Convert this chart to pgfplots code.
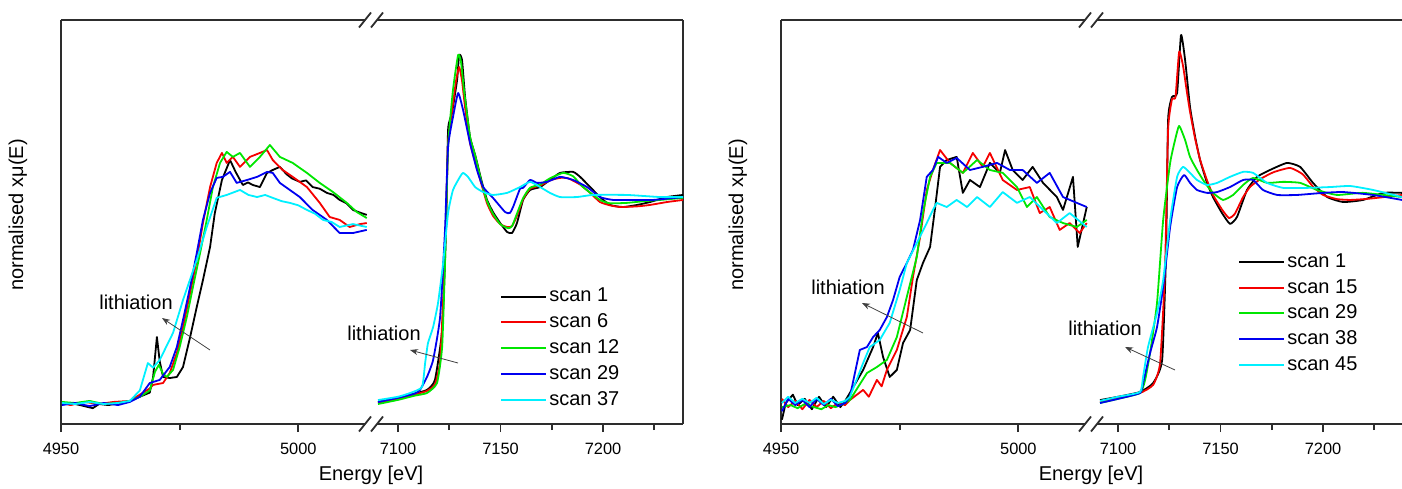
\documentclass[border=0pt]{standalone}
\usepackage{fontspec}
\setmainfont{Liberation Sans}
\usepackage{pgfplots}
\pgfplotsset{compat=1.18}
\usetikzlibrary{arrows.meta}
\definecolor{sblack}{RGB}{0,0,0}
\definecolor{sred}{RGB}{245,0,0}
\definecolor{sgreen}{RGB}{0,230,0}
\definecolor{sblue}{RGB}{0,0,240}
\definecolor{scyan}{RGB}{0,240,255}
\definecolor{frame}{RGB}{45,45,45}

\pgfplotsset{
  c1/.style={sblack, line width=0.9pt, line join=round, no marks},
  c2/.style={sred, line width=0.9pt, line join=round, no marks},
  c3/.style={sgreen, line width=0.9pt, line join=round, no marks},
  c4/.style={sblue, line width=0.9pt, line join=round, no marks},
  c5/.style={scyan, line width=0.9pt, line join=round, no marks},
  xas/.style={scale only axis, height=202pt, ymin=-0.101, ymax=1.841, ytick=\empty,
    enlargelimits=false, tick align=outside, major tick length=4pt, minor tick length=3pt,
    axis line style={line width=0.9pt, frame}, tick style={line width=0.9pt, frame},
    scaled x ticks=false, clip mode=individual,
    x tick label style={font=\fontsize{8.2}{10}\selectfont, /pgf/number format/1000 sep={},
      /pgf/number format/assume math mode=true, yshift=-2pt}},
  tiax/.style={xas, width=155pt, xmin=4950, xmax=5015.3, xtick={4950,5000}, minor xtick={4975},
    axis x line*=bottom, axis y line*=left},
  feax/.style={xas, width=156pt, xmin=7086.8, xmax=7239, xtick={7100,7150,7200},
    minor xtick={7125,7175,7225}, axis x line*=bottom, axis y line*=right,
    every axis plot/.append style={smooth, tension=0.3},
    legend cell align=left,
    legend style={draw=none, fill=none, inner sep=0pt, anchor=north west, row sep=2.5pt,
      font=\fontsize{10}{12}\selectfont, nodes={inner sep=1pt}},
    legend image code/.code={\draw[#1, line width=1pt, sharp plot] (0pt,0pt) -- (22.5pt,0pt);}},
}

\begin{document}
\begin{tikzpicture}

% ---------------- left panel, Ti K edge ----------------
\begin{axis}[tiax, at={(30.5pt,32pt)}, anchor=south west]
\addplot[c1] coordinates {(4950.2,-0.005)(4952,0.0)(4954,-0.01)(4956.7,-0.025)(4958,-0.005)(4960,-0.01)(4962.4,0.0)(4964.5,0.01)(4966.6,0.03)(4968.7,0.05)(4969.4,0.125)(4970.2,0.317)(4970.8,0.2)(4971.5,0.125)(4972.9,0.12)(4974.4,0.125)(4975.7,0.173)(4977.2,0.317)(4978.6,0.462)(4979.9,0.591)(4981.4,0.75)(4982.4,0.913)(4983.9,1.072)(4985.6,1.168)(4986.8,1.11)(4988.3,1.048)(4989.4,1.06)(4990.4,1.048)(4991.9,1.038)(4993.4,1.106)(4994.6,1.12)(4996.1,1.135)(4997.5,1.1)(4998.6,1.08)(5000.3,1.063)(5001.6,1.07)(5003.0,1.038)(5004.5,1.03)(5006.0,1.01)(5007.4,1.0)(5008.7,0.976)(5010.1,0.96)(5011.5,0.928)(5013,0.915)(5014.4,0.904)};
\addplot[c2] coordinates {(4950.2,0.0)(4952,-0.01)(4955,0.005)(4958,-0.005)(4961,0.005)(4964.5,0.01)(4966.6,0.04)(4968.7,0.07)(4969.4,0.087)(4971.5,0.096)(4972.9,0.144)(4974.4,0.24)(4975.7,0.365)(4977.2,0.529)(4978.6,0.688)(4979.9,0.865)(4981.4,1.038)(4982.8,1.154)(4983.9,1.202)(4984.9,1.154)(4986.2,1.183)(4987.7,1.135)(4989.8,1.183)(4991.9,1.202)(4993.4,1.216)(4994.6,1.168)(4996.7,1.12)(4998.8,1.087)(5001.8,1.038)(5004.5,0.962)(5006.6,0.894)(5008.7,0.88)(5010.8,0.846)(5013,0.86)(5014.4,0.865)};
\addplot[c3] coordinates {(4950.2,0.005)(4953,0.0)(4956,0.01)(4959,-0.005)(4962,0.0)(4964.5,0.01)(4966.6,0.03)(4968.7,0.06)(4969.8,0.15)(4970.6,0.183)(4971.5,0.14)(4972.3,0.125)(4973.6,0.159)(4975.0,0.269)(4976.5,0.413)(4977.8,0.558)(4979.3,0.721)(4980.7,0.88)(4982.0,1.038)(4983.5,1.154)(4984.9,1.207)(4986.2,1.183)(4987.7,1.202)(4989.8,1.135)(4991.9,1.183)(4994.0,1.24)(4996.1,1.183)(4998.8,1.154)(5001.8,1.106)(5004.5,1.058)(5007.3,1.014)(5010.2,0.962)(5012.3,0.918)(5014.4,0.889)};
\addplot[c4] coordinates {(4950.2,-0.01)(4953,0.0)(4956,-0.015)(4959,0.0)(4962,-0.01)(4964.5,0.005)(4966.6,0.03)(4968.7,0.096)(4970.8,0.111)(4972.9,0.173)(4974.4,0.269)(4975.7,0.399)(4977.2,0.558)(4978.6,0.721)(4979.9,0.88)(4981.4,1.01)(4982.8,1.082)(4984.1,1.087)(4985.6,1.111)(4987.0,1.058)(4989.2,1.072)(4991.3,1.087)(4993.4,1.111)(4994.6,1.106)(4996.1,1.058)(4998.2,1.024)(5000.3,0.99)(5003.0,0.928)(5006.0,0.88)(5008.7,0.817)(5011.5,0.817)(5014.4,0.832)};
\addplot[c5] coordinates {(4950.2,0.0)(4953,-0.005)(4956,0.005)(4959,-0.005)(4962,0.0)(4964.5,0.01)(4966.6,0.06)(4968.3,0.192)(4969.4,0.17)(4970.8,0.207)(4973.6,0.337)(4975.7,0.495)(4978.6,0.688)(4980.7,0.846)(4982.8,0.986)(4984.9,1.0)(4987.7,1.024)(4989.5,1.0)(4991.3,0.99)(4993,1.0)(4994.6,0.986)(4996.5,0.97)(4998.2,0.962)(5000,0.95)(5001.8,0.928)(5003.5,0.91)(5005.2,0.88)(5007,0.87)(5008.7,0.846)(5011.5,0.86)(5014.4,0.846)};
\draw[line width=0.9pt, frame] (rel axis cs:0,1) -- (rel axis cs:1,1);
\end{axis}

% ---------------- left panel, Fe K edge ----------------
\begin{axis}[feax, at={(185.5pt,32pt)}, anchor=south west,
  legend style={at={(rel axis cs:0.413,0.342)}}]
\addplot[c1] coordinates {(7090.2,0.005)(7100,0.025)(7108,0.045)(7114.1,0.063)(7118.0,0.111)(7121.5,0.351)(7123.4,0.832)(7124.4,1.313)(7126.3,1.394)(7128.8,1.553)(7129.8,1.673)(7131.2,1.649)(7132.7,1.471)(7135.1,1.279)(7137.6,1.192)(7141.0,1.058)(7143.4,0.976)(7146.3,0.918)(7149.8,0.865)(7153.2,0.822)(7155.6,0.817)(7158.0,0.865)(7161.0,0.976)(7164.4,1.024)(7169.3,1.038)(7174.1,1.072)(7179.0,1.106)(7185.4,1.111)(7188.8,1.087)(7193.7,1.038)(7198.5,0.99)(7203.4,0.952)(7209.8,0.942)(7216.6,0.952)(7222.9,0.966)(7231.2,0.99)(7239.0,1.0)};
\addplot[c2] coordinates {(7090.2,0.0)(7100,0.02)(7108,0.04)(7114.1,0.058)(7118.0,0.09)(7120.5,0.2)(7122.0,0.5)(7123.4,0.9)(7124.4,1.25)(7126.3,1.4)(7128.3,1.55)(7129.8,1.615)(7131.2,1.55)(7132.7,1.42)(7135.1,1.25)(7137.6,1.16)(7141.0,1.04)(7143.4,0.96)(7146.3,0.9)(7149.8,0.86)(7153.2,0.846)(7155.6,0.85)(7158.0,0.9)(7161.0,0.98)(7164.4,1.03)(7169.3,1.045)(7174.1,1.07)(7179.0,1.082)(7183,1.08)(7188.8,1.05)(7193.7,1.01)(7198.5,0.966)(7203.4,0.95)(7208.3,0.942)(7216.6,0.945)(7222.9,0.952)(7231.2,0.966)(7239.0,0.976)};
\addplot[c3] coordinates {(7090.2,-0.005)(7100,0.015)(7108,0.035)(7114.1,0.048)(7119.0,0.096)(7121.5,0.269)(7122.9,0.67)(7124.4,1.231)(7126.8,1.505)(7129.3,1.673)(7130.7,1.64)(7132.2,1.5)(7135.1,1.28)(7137.6,1.19)(7141.0,1.05)(7143.4,0.97)(7146.3,0.91)(7149.8,0.86)(7153.7,0.84)(7155.6,0.85)(7158.0,0.91)(7161.0,0.985)(7164.4,1.035)(7169.3,1.05)(7174.1,1.08)(7180.5,1.106)(7185.4,1.09)(7190,1.04)(7198.5,0.976)(7203.4,0.96)(7211.7,0.962)(7220,0.97)(7227.8,0.976)(7239.0,0.986)};
\addplot[c4] coordinates {(7090.2,0.005)(7100,0.025)(7108,0.045)(7110.7,0.063)(7114.1,0.125)(7117.1,0.207)(7120.5,0.413)(7122.9,0.832)(7124.4,1.231)(7126.8,1.375)(7129.3,1.49)(7131.7,1.409)(7135.1,1.25)(7138.5,1.12)(7141.5,1.038)(7146.3,0.986)(7152.2,0.918)(7154.5,0.913)(7156.1,0.942)(7159.5,1.03)(7161.0,1.034)(7164.4,1.072)(7167.8,1.058)(7172.7,1.063)(7179.0,1.087)(7185.4,1.072)(7192.2,1.038)(7198.5,0.99)(7204.9,0.976)(7214.6,0.976)(7224.4,0.976)(7239.0,0.99)};
\addplot[c5] coordinates {(7090.2,0.014)(7100,0.03)(7105.9,0.048)(7111.7,0.077)(7113.2,0.192)(7114.6,0.288)(7117.1,0.365)(7119.5,0.481)(7122.0,0.673)(7124.4,0.913)(7126.8,1.024)(7130.2,1.087)(7131.7,1.106)(7134.1,1.087)(7137.6,1.038)(7141.5,1.014)(7146.3,1.0)(7153.2,1.01)(7159.5,1.038)(7164.4,1.063)(7169.3,1.038)(7174.1,1.01)(7179.0,0.99)(7187.3,0.99)(7195.1,1.0)(7211.7,1.0)(7227.8,0.99)(7239.0,0.99)};
\legend{scan 1,scan 6,scan 12,scan 29,scan 37}
\draw[line width=0.9pt, frame] (rel axis cs:0,1) -- (rel axis cs:1,1);
\end{axis}

% ---------------- right panel, Ti K edge ----------------
\begin{axis}[tiax, at={(390.5pt,32pt)}, anchor=south west]
\addplot[c1] coordinates {(4950.2,-0.08)(4951,0.0)(4952.5,0.04)(4953.5,-0.01)(4955,0.02)(4956.5,-0.03)(4958,0.03)(4959.5,-0.02)(4961,0.03)(4962.5,-0.02)(4963.5,0.01)(4964.5,0.048)(4967.3,0.159)(4969.4,0.269)(4970.4,0.337)(4971.5,0.221)(4972.9,0.125)(4974.4,0.159)(4975.7,0.288)(4977.2,0.351)(4978.6,0.591)(4979.9,0.673)(4981.4,0.75)(4982.4,0.928)(4983.5,1.135)(4984.9,1.168)(4987.0,1.183)(4988.3,1.01)(4989.8,1.072)(4991.9,1.038)(4994.0,1.154)(4996.1,1.106)(4997.2,1.216)(4998.8,1.12)(5000.9,1.072)(5003.0,1.135)(5005.2,1.058)(5008.1,0.99)(5009.4,0.928)(5011.5,1.087)(5012.5,0.75)(5014.4,0.942)};
\addplot[c2] coordinates {(4950.2,0.02)(4951.5,-0.02)(4953,0.01)(4954.5,-0.03)(4956,0.015)(4957.5,-0.02)(4959,0.01)(4960.5,-0.025)(4962,0.0)(4963.5,-0.01)(4964.5,0.014)(4967.3,0.063)(4968.5,0.03)(4970.2,0.111)(4971.2,0.08)(4972.3,0.159)(4974.4,0.255)(4976.5,0.413)(4977.8,0.606)(4979.3,0.798)(4980.7,1.024)(4982.0,1.12)(4983.5,1.216)(4985.6,1.154)(4988.3,1.106)(4990.4,1.202)(4992.5,1.135)(4994.0,1.202)(4996.7,1.072)(4999.7,1.024)(5002.4,1.038)(5004.5,0.913)(5006.6,0.942)(5008.7,0.832)(5010.8,0.865)(5012.9,0.817)(5014.4,0.865)};
\addplot[c3] coordinates {(4950.2,-0.02)(4952,-0.01)(4953.5,-0.025)(4955,-0.005)(4957,-0.02)(4958.5,-0.03)(4960,-0.01)(4961.5,-0.02)(4963,-0.005)(4964.5,0.014)(4968.1,0.144)(4970.2,0.173)(4972.3,0.207)(4974.4,0.317)(4976.5,0.51)(4978.6,0.702)(4979.9,0.913)(4981.4,1.087)(4982.8,1.154)(4985.6,1.154)(4988.3,1.106)(4991.3,1.168)(4994.0,1.12)(4996.7,1.106)(4999.7,1.038)(5001.8,0.942)(5003.9,0.99)(5006.6,0.894)(5009.4,0.865)(5012.3,0.846)(5014.4,0.88)};
\addplot[c4] coordinates {(4950.2,-0.04)(4951.5,0.02)(4953,-0.01)(4954.5,0.015)(4956,-0.02)(4957.5,0.02)(4959,-0.01)(4960.5,0.02)(4962,-0.015)(4963.5,0.0)(4964.5,0.029)(4966.6,0.255)(4968.1,0.269)(4969.4,0.317)(4970.8,0.351)(4972.3,0.413)(4973.6,0.495)(4975.0,0.606)(4976.5,0.673)(4977.8,0.736)(4979.3,0.88)(4980.7,1.087)(4982.0,1.12)(4983.1,1.183)(4984.9,1.154)(4987.0,1.178)(4989.8,1.12)(4992.5,1.135)(4995.5,1.154)(4998.2,1.12)(5000.9,1.12)(5003.9,1.058)(5006.6,1.106)(5009.4,0.99)(5012.3,0.962)(5014.4,0.942)};
\addplot[c5] coordinates {(4950.2,0.0)(4951.5,0.03)(4953,0.0)(4954.5,0.02)(4956,0.0)(4957.5,0.025)(4959,-0.005)(4960.5,0.015)(4962,0.0)(4963.5,0.01)(4964.5,0.029)(4967.3,0.192)(4968.7,0.269)(4970.8,0.303)(4972.9,0.385)(4975.0,0.543)(4976.5,0.673)(4978.6,0.769)(4980.7,0.865)(4982.0,0.928)(4982.8,0.962)(4984.9,0.942)(4987.0,0.976)(4989.2,0.942)(4991.3,0.99)(4994.0,0.942)(4996.7,1.014)(4999.7,0.962)(5002.4,0.99)(5005.2,0.928)(5008.1,0.865)(5010.8,0.913)(5014.4,0.846)};
\draw[line width=0.9pt, frame] (rel axis cs:0,1) -- (rel axis cs:1,1);
\end{axis}

% ---------------- right panel, Fe K edge ----------------
\begin{axis}[feax, at={(545.5pt,32pt)}, anchor=south west,
  legend style={at={(rel axis cs:0.471,0.428)}}]
\addplot[c1] coordinates {(7091.2,0.014)(7100,0.03)(7110.7,0.053)(7117.1,0.096)(7121.5,0.207)(7123.4,0.721)(7124.4,1.361)(7126.3,1.471)(7128.8,1.49)(7130.7,1.769)(7132.7,1.649)(7135.1,1.423)(7137.6,1.279)(7140.0,1.168)(7143.4,1.058)(7146.3,0.99)(7150.7,0.913)(7154.6,0.861)(7158.0,0.894)(7162.9,1.024)(7167.8,1.087)(7174.1,1.12)(7182.4,1.154)(7188.8,1.135)(7195.1,1.058)(7202.0,0.99)(7209.8,0.966)(7219.5,0.976)(7229.3,1.01)(7238.5,1.01)};
\addplot[c2] coordinates {(7091.2,0.005)(7100,0.025)(7110.7,0.048)(7117.1,0.087)(7120.5,0.192)(7122.9,0.639)(7124.4,1.313)(7126.3,1.46)(7128.0,1.47)(7129.8,1.688)(7131.7,1.62)(7133.5,1.5)(7135.1,1.4)(7137.6,1.27)(7140.0,1.17)(7143.4,1.07)(7146.3,1.0)(7150.7,0.93)(7154.1,0.889)(7157,0.91)(7161.0,0.99)(7164.5,1.04)(7170,1.08)(7176,1.11)(7183.9,1.13)(7190,1.1)(7195.1,1.04)(7200.0,1.0)(7206.8,0.98)(7213.2,0.976)(7220,0.98)(7226.3,0.986)(7238.5,1.0)};
\addplot[c3] coordinates {(7091.2,0.0)(7100,0.02)(7110.7,0.048)(7113.2,0.111)(7115.6,0.24)(7119.0,0.481)(7122.0,0.88)(7125.4,1.154)(7127.8,1.264)(7129.8,1.332)(7132.7,1.264)(7135.1,1.183)(7138.5,1.12)(7142.4,1.058)(7146.3,1.01)(7151.2,0.976)(7156.1,1.0)(7161.0,1.048)(7165.9,1.082)(7172.7,1.058)(7180.5,1.063)(7188.8,1.058)(7197.1,1.024)(7206.8,1.0)(7219.5,1.01)(7238.5,0.99)};
\addplot[c4] coordinates {(7091.2,0.0)(7100,0.02)(7110.7,0.048)(7112.2,0.096)(7115.6,0.24)(7119.0,0.365)(7122.0,0.558)(7125.4,0.846)(7128.8,1.038)(7132.2,1.096)(7135.1,1.058)(7138.5,1.024)(7143.4,1.01)(7148.3,1.014)(7154.6,1.038)(7161.0,1.072)(7165.9,1.072)(7170.7,1.024)(7177.6,1.0)(7187.3,1.0)(7200.0,1.01)(7209.8,1.014)(7224.4,1.0)(7238.5,0.976)};
\addplot[c5] coordinates {(7091.2,0.01)(7100,0.03)(7110.7,0.053)(7112.2,0.125)(7114.6,0.269)(7119.0,0.433)(7122.0,0.591)(7125.4,0.88)(7128.8,1.087)(7131.7,1.135)(7135.1,1.106)(7138.5,1.072)(7143.4,1.048)(7148.3,1.058)(7154.6,1.087)(7161.0,1.111)(7165.9,1.106)(7172.7,1.058)(7180.5,1.034)(7192.2,1.034)(7203.4,1.038)(7213.2,1.043)(7224.4,1.024)(7238.5,0.99)};
\legend{scan 1,scan 15,scan 29,scan 38,scan 45}
\draw[line width=0.9pt, frame] (rel axis cs:0,1) -- (rel axis cs:1,1);
\end{axis}

\begin{scope}[x=1pt, y=1pt]
% axis breaks
\foreach \bx in {185.5,545.5} {
  \foreach \by in {32,234} {
    \fill[white] (\bx-3,\by-1.5) rectangle (\bx+3,\by+1.5);
    \draw[line width=0.9pt, frame] (\bx-6,\by-3.75) -- ++(6,7.5);
    \draw[line width=0.9pt, frame] (\bx,\by-3.75) -- ++(6,7.5);
  }
}
% labels
\begin{scope}[font=\fontsize{10}{12}\selectfont]
\node at (185.5,6.5) {Energy [eV]};
\node at (545.5,6.5) {Energy [eV]};
\node[rotate=90] at (9,136.5) {normalised xμ(E)};
\node[rotate=90] at (369,136.5) {normalised xμ(E)};
\node at (68,93) {lithiation};
\node at (192,77.5) {lithiation};
\node at (424,100.5) {lithiation};
\node at (552.5,80) {lithiation};
\end{scope}
\begin{scope}[line width=0.4pt, black!75, -{Stealth[length=4pt,width=3pt]}]
\draw (105,69) -- (81,85);
\draw (229,62.5) -- (205,69);
\draw (461.5,77.5) -- (431,92.5);
\draw (587.5,59) -- (562.5,70.5);
\end{scope}
\end{scope}

\pgfresetboundingbox
\useasboundingbox (0pt,0pt) rectangle (701pt,244pt);
\end{tikzpicture}
\end{document}
